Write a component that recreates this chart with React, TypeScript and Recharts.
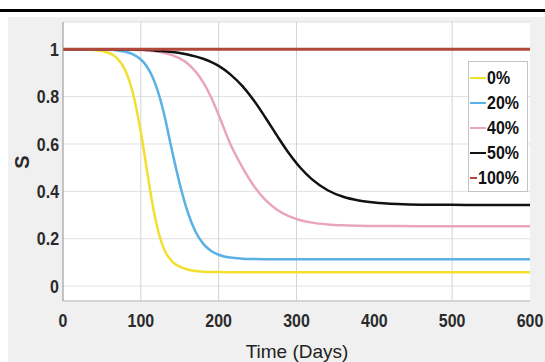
import React from "react";
import {
  LineChart, Line, XAxis, YAxis, CartesianGrid, ReferenceLine, Label,
} from "recharts";

// sampled days and S for each vaccination share
const times = [0, 40, 60, 70, 80, 90, 100, 105, 110, 115, 120, 125, 130, 140, 150, 160, 170, 180, 190, 200, 215, 230, 245, 260, 275, 290, 305, 320, 340, 360, 380, 400, 430, 460, 500, 550, 600];

const s0 = [1, 0.997, 0.983, 0.9605, 0.911, 0.8123, 0.6492, 0.5494, 0.4442, 0.3464, 0.2641, 0.2002, 0.155, 0.104, 0.082, 0.07, 0.064, 0.061, 0.0595, 0.059, 0.0585, 0.058, 0.058, 0.058, 0.058, 0.058, 0.058, 0.058, 0.058, 0.058, 0.058, 0.058, 0.058, 0.058, 0.058, 0.058, 0.058];
const s20 = [1, 0.9994, 0.9975, 0.9949, 0.9894, 0.9785, 0.9568, 0.9392, 0.9151, 0.883, 0.841, 0.7882, 0.7244, 0.5726, 0.4313, 0.3143, 0.2314, 0.1793, 0.1491, 0.1323, 0.1204, 0.1158, 0.1141, 0.1134, 0.1131, 0.113, 0.113, 0.113, 0.113, 0.113, 0.113, 0.113, 0.113, 0.113, 0.113, 0.113, 0.113];
const s40 = [1, 0.9998, 0.9994, 0.9991, 0.9985, 0.9976, 0.9962, 0.9952, 0.994, 0.9924, 0.9903, 0.9878, 0.9845, 0.9754, 0.9612, 0.9395, 0.9071, 0.8611, 0.7991, 0.7222, 0.5998, 0.5044, 0.424, 0.3636, 0.322, 0.295, 0.2782, 0.2679, 0.2604, 0.2566, 0.2548, 0.2539, 0.2534, 0.2531, 0.253, 0.253, 0.253];
const s50 = [1, 0.9998, 0.9996, 0.9994, 0.9991, 0.9987, 0.9979, 0.9974, 0.9967, 0.9959, 0.9937, 0.9925, 0.991, 0.988, 0.984, 0.978, 0.97, 0.96, 0.947, 0.93, 0.894, 0.846, 0.7846, 0.712, 0.635, 0.562, 0.4995, 0.4503, 0.4047, 0.3771, 0.3613, 0.3525, 0.3461, 0.3436, 0.343, 0.3422, 0.342];
const s100 = [1, 1, 1, 1, 1, 1, 1, 1, 1, 1, 1, 1, 1, 1, 1, 1, 1, 1, 1, 1, 1, 1, 1, 1, 1, 1, 1, 1, 1, 1, 1, 1, 1, 1, 1, 1, 1];

const xTicks = [0, 100, 200, 300, 400, 500, 600];
const yTicks = [0, 0.2, 0.4, 0.6, 0.8, 1];
const xGrid = [100, 200, 300, 500];

const series = [
  { key: "s0", name: "0%", color: "#f2df2e", width: 2.5 },
  { key: "s20", name: "20%", color: "#5ab2e4", width: 2.5 },
  { key: "s40", name: "40%", color: "#e9a5c0", width: 2.5 },
  { key: "s50", name: "50%", color: "#121212", width: 2.5 },
  { key: "s100", name: "100%", color: "#b0483b", width: 3 },
];

const rows = times.map((t, i) => ({
  t, s0: s0[i], s20: s20[i], s40: s40[i], s50: s50[i], s100: s100[i],
}));

const sans = "'Liberation Sans', Arial, sans-serif";
const squeeze = 0.84; // condensed look for the bold labels

const XTick = ({ x, y, payload }: any) => (
  <g transform={`translate(${x},${y + 19}) scale(${squeeze},1)`}>
    <text x={0} y={0} dy="0.35em" textAnchor="middle" fontFamily={sans}
      fontWeight="bold" fontSize={19} fill="#2a2a2a">
      {payload.value}
    </text>
  </g>
);

const YTick = ({ x, y, payload }: any) => (
  <g transform={`translate(${x - 4},${y}) scale(${squeeze},1)`}>
    <text x={0} y={0} dy="0.35em" textAnchor="end" fontFamily={sans}
      fontWeight="bold" fontSize={19} fill="#2a2a2a">
      {String(payload.value)}
    </text>
  </g>
);

export default function App() {
  return (
    <div style={{ position: "absolute", left: 0, top: 0, width: 545, height: 362, background: "#fff", overflow: "hidden" }}>
      <div style={{ position: "absolute", left: 0, top: 9, width: 545, height: 3, background: "#000" }} />
      <div style={{ position: "absolute", left: 8, top: 17, width: 537, height: 345, background: "#f0f0f0" }} />
      <div style={{ position: "absolute", left: 0, top: 0 }}>
        <LineChart width={545} height={362} data={rows}
          margin={{ top: 22, right: 15, bottom: 21, left: 8 }}>
          <CartesianGrid vertical={false} stroke="#e0e0e0" fill="#ffffff" fillOpacity={1} />
          <XAxis dataKey="t" type="number" domain={[0, 600]} ticks={xTicks}
            tickSize={0} tickMargin={0} height={40} tickLine={false}
            axisLine={{ stroke: "#bdbdbd" }} tick={<XTick />}>
            <Label content={() => (
              <text x={297} y={351} dy="0.35em" textAnchor="middle" fontFamily={sans}
                fontSize={19} fill="#222">Time (Days)</text>
            )} />
          </XAxis>
          <XAxis xAxisId="top" orientation="top" dataKey="t" type="number" domain={[0, 600]}
            height={0} tick={false} tickLine={false} axisLine={{ stroke: "#d2d2d2" }} />
          <YAxis type="number" domain={[-0.063, 1.115]} ticks={yTicks} allowDataOverflow
            width={55} tickSize={0} tickMargin={0} tickLine={false}
            axisLine={{ stroke: "#8f8f8f" }} tick={<YTick />}>
            <Label content={() => (
              <text x={22} y={162} dy="0.35em" textAnchor="middle" fontFamily={sans}
                fontWeight="bold" fontSize={20} fill="#2a2a2a" transform="rotate(-90 22 162)">S</text>
            )} />
          </YAxis>
          {xGrid.map((v) => (
            <ReferenceLine key={v} x={v} stroke="#d4d4d4" strokeWidth={1} />
          ))}
          {series.map((s) => (
            <Line key={s.key} dataKey={s.key} name={s.name} type="monotone" stroke={s.color}
              strokeWidth={s.width} dot={false} activeDot={false} isAnimationActive={false} />
          ))}
        </LineChart>
      </div>
      <div style={{
        position: "absolute", left: 468, top: 61, width: 60, height: 131, boxSizing: "border-box",
        background: "#fff", border: "1px solid #c4c4c4", paddingTop: 3,
      }}>
        {series.map((s) => (
          <div key={s.key} style={{ display: "flex", alignItems: "center", height: 25 }}>
            <div style={{ width: 16, height: 0, borderTop: `2px solid ${s.color}`, marginLeft: 1, marginRight: 1 }} />
            <span style={{
              display: "inline-block", transform: `scaleX(${squeeze})`, transformOrigin: "left center",
              fontFamily: sans, fontWeight: "bold", fontSize: 19, color: "#111", lineHeight: "25px",
            }}>{s.name}</span>
          </div>
        ))}
      </div>
    </div>
  );
}
